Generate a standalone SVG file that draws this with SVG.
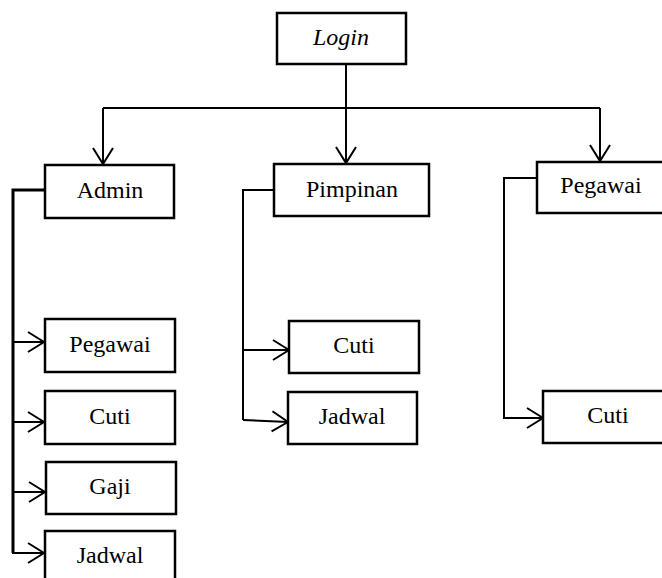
<svg xmlns="http://www.w3.org/2000/svg" width="662" height="578" viewBox="0 0 662 578">
<style>
.box{fill:#fff;stroke:#000;stroke-width:2.5}
.t{font-family:"Liberation Serif","Times New Roman",serif;font-size:24px;fill:#000;text-anchor:middle}
.c{fill:none;stroke:#000;stroke-width:2}
</style>
<defs>
<marker id="arr" markerUnits="userSpaceOnUse" markerWidth="20" markerHeight="24" refX="16" refY="0" orient="auto" overflow="visible">
<path d="M0,-10 L16,0 L0,10" fill="none" stroke="#000" stroke-width="2"/>
</marker>
</defs>
<rect width="662" height="578" fill="#fff"/>
<g id="connectors">
<path class="c" d="M346,64 V163" marker-end="url(#arr)"/>
<path class="c" d="M103,108 H600"/>
<path class="c" d="M103,108 V164" marker-end="url(#arr)"/>
<path class="c" d="M600,108 V161" marker-end="url(#arr)"/>
<path class="c" style="stroke-width:3" d="M45,190 H13 V553"/>
<path class="c" d="M13,342 H44" marker-end="url(#arr)"/>
<path class="c" d="M13,422 H44" marker-end="url(#arr)"/>
<path class="c" d="M13,492 H45" marker-end="url(#arr)"/>
<path class="c" d="M12,553 H44" marker-end="url(#arr)"/>
<path class="c" d="M274,190 H243 V420"/>
<path class="c" d="M243,350 H289" marker-end="url(#arr)"/>
<path class="c" d="M243,420 L288,422" marker-end="url(#arr)"/>
<path class="c" d="M537,178 H504 V418 H543" marker-end="url(#arr)"/>
</g>
<g id="login"><rect class="box" x="277" y="13" width="129" height="51"/><text class="t" x="341" y="45" font-style="italic">Login</text></g>
<g id="admin"><rect class="box" x="45" y="165" width="129" height="53"/><text class="t" x="110" y="198">Admin</text></g>
<g id="pimpinan"><rect class="box" x="274" y="164" width="155" height="52"/><text class="t" x="352" y="197">Pimpinan</text></g>
<g id="pegawai"><rect class="box" x="537" y="162" width="135" height="51"/><text class="t" x="601" y="193">Pegawai</text></g>
<g id="admin-pegawai"><rect class="box" x="45" y="319" width="130" height="53"/><text class="t" x="110" y="352">Pegawai</text></g>
<g id="admin-cuti"><rect class="box" x="45" y="391" width="130" height="53"/><text class="t" x="110" y="424">Cuti</text></g>
<g id="admin-gaji"><rect class="box" x="46" y="462" width="130" height="52"/><text class="t" x="110" y="494">Gaji</text></g>
<g id="admin-jadwal"><rect class="box" x="45" y="531" width="130" height="60"/><text class="t" x="110" y="563">Jadwal</text></g>
<g id="pimpinan-cuti"><rect class="box" x="289" y="321" width="130" height="52"/><text class="t" x="354" y="353">Cuti</text></g>
<g id="pimpinan-jadwal"><rect class="box" x="288" y="392" width="129" height="52"/><text class="t" x="352" y="424">Jadwal</text></g>
<g id="pegawai-cuti"><rect class="box" x="543" y="391" width="130" height="52"/><text class="t" x="608" y="423">Cuti</text></g>
</svg>
